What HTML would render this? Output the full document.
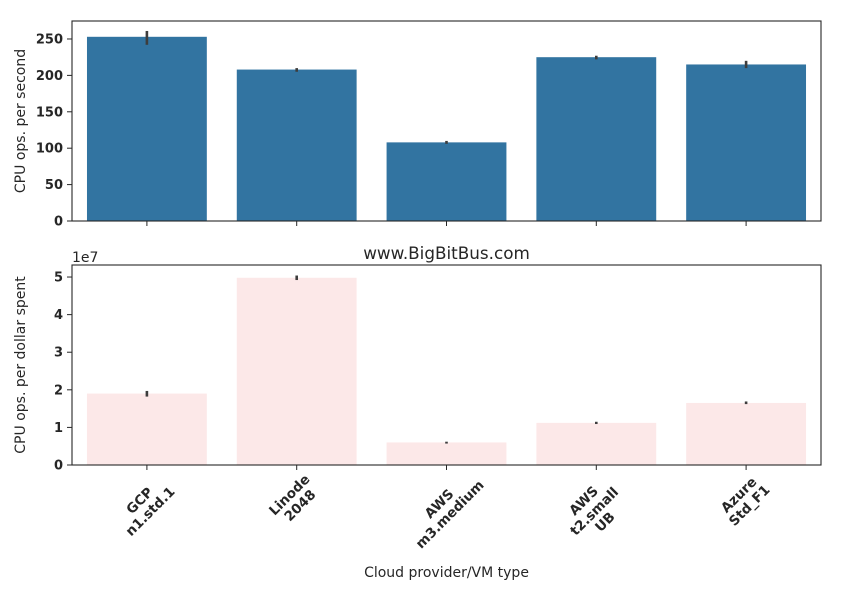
<!DOCTYPE html>
<html><head><meta charset="utf-8"><style>
body{margin:0;background:#fff}
text{font-family:"DejaVu Sans","Liberation Sans",sans-serif;fill:#262626}
</style></head><body>
<svg id="c" width="842" height="595" xmlns="http://www.w3.org/2000/svg"></svg>
<script>
const categories=[["GCP","n1.std.1"],["Linode","2048"],["AWS","m3.medium"],["AWS","t2.small","UB"],["Azure","Std_F1"]];
const opsValues=[253,208,108,225,215];
const opsErrLow=[242,205,106,222,210];
const opsErrHigh=[261,210,110,227,220];
const dollarValues=[1.9,4.98,0.6,1.12,1.65];
const dollarErrLow=[1.82,4.92,0.57,1.09,1.62];
const dollarErrHigh=[1.97,5.04,0.62,1.15,1.69];
const topTicks=[0,50,100,150,200,250];
const botTicks=[0,1,2,3,4,5];

const NS="http://www.w3.org/2000/svg";
const svg=document.getElementById('c');
function el(t,a,p){const e=document.createElementNS(NS,t);for(const k in a)e.setAttribute(k,a[k]);(p||svg).appendChild(e);return e;}
const L=72,R=821,n=categories.length,step=(R-L)/n,bw=step*0.8;
const xc=i=>L+step*(i+0.5);
function panel(top,bot,ymax,vals,lo,hi,ticks,color,name,ylabel){
  const y=v=>bot-(v/ymax)*(bot-top);
  const g=el('g',{});
  
  
  vals.forEach((v,i)=>{
    const r=el('rect',{x:xc(i)-bw/2,y:y(v),width:bw,height:bot-y(v),fill:color},g);
    
    
    const e=el('line',{x1:xc(i),x2:xc(i),y1:y(lo[i]),y2:y(hi[i]),stroke:'#3d3d3d','stroke-width':2.6},g);
    
    
  });
  ticks.forEach(t=>{
    el('line',{x1:L-5,x2:L,y1:y(t),y2:y(t),stroke:'#262626','stroke-width':1},g);
    const tx=el('text',{x:L-9,y:y(t)+4.5,'text-anchor':'end','font-size':13,'font-weight':'bold'},g);
    tx.textContent=t;
    
    
  });
  for(let i=0;i<n;i++)el('line',{x1:xc(i),x2:xc(i),y1:bot,y2:bot+5,stroke:'#262626'},g);
  el('rect',{x:L,y:top,width:R-L,height:bot-top,fill:'none',stroke:'#262626','stroke-width':1.1},g);
  const yl=el('text',{x:0,y:0,'text-anchor':'middle','font-size':14,transform:`translate(${L-47},${(top+bot)/2}) rotate(-90)`},g);
  yl.textContent=ylabel;
  
  
}
panel(21,221,274.7,opsValues,opsErrLow,opsErrHigh,topTicks,'#3274a1','top-plot','CPU ops. per second');
panel(265,465,5.32,dollarValues,dollarErrLow,dollarErrHigh,botTicks,'#fce8e8','bottom-plot','CPU ops. per dollar spent');
let t=el('text',{x:72,y:262,'font-size':14});t.textContent='1e7';


t=el('text',{x:446.5,y:259,'text-anchor':'middle','font-size':16.8});t.textContent='www.BigBitBus.com';


t=el('text',{x:446.5,y:577,'text-anchor':'middle','font-size':14});t.textContent='Cloud provider/VM type';


categories.forEach((lines,i)=>{
  const maxw=Math.max(...lines.map(s=>s.length))*8.3;
  const lh=15;
  const h=(maxw+lines.length*lh)*0.707;
  const cx=xc(i)-2, cy=472+h/2;
  const tx=el('text',{'text-anchor':'middle','font-size':13.5,'font-weight':'bold',transform:`translate(${cx},${cy}) rotate(-45)`});
  
  
  lines.forEach((s,j)=>{const sp=el('tspan',{x:0,y:(j-(lines.length-1)/2)*lh+4.5},tx);sp.textContent=s;});
});
</script>
</body></html>
